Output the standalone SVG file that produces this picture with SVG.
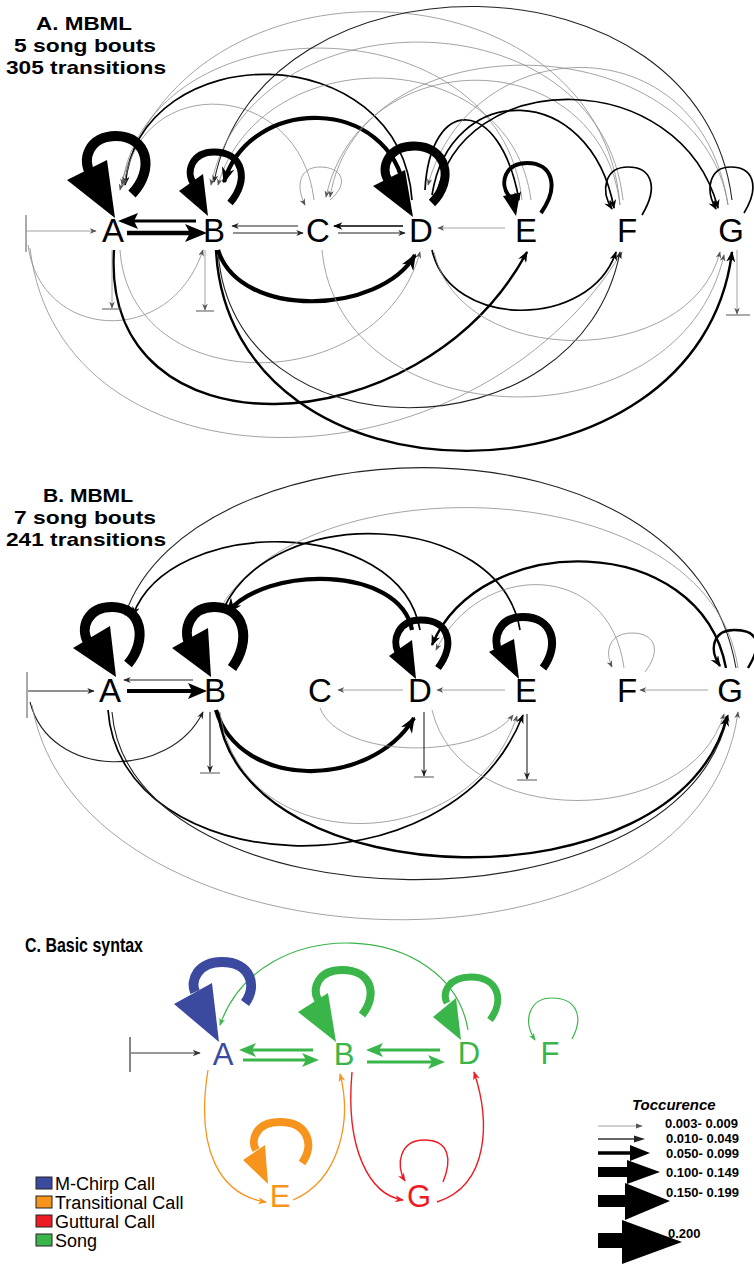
<svg xmlns="http://www.w3.org/2000/svg" width="754" height="1264" viewBox="0 0 754 1264">
<defs>
<marker id="m0" viewBox="0 0 10 8" refX="9" refY="4" markerWidth="7" markerHeight="5.6" markerUnits="userSpaceOnUse" orient="auto"><path d="M0,0 L10,4 L0,8 L3,4z" fill="#555"/></marker>
<marker id="m1" viewBox="0 0 10 8" refX="9" refY="4" markerWidth="8" markerHeight="6" markerUnits="userSpaceOnUse" orient="auto"><path d="M0,0 L10,4 L0,8 L3,4z" fill="#222"/></marker>
<marker id="m2" viewBox="0 0 10 8" refX="9" refY="4" markerWidth="10" markerHeight="7.5" markerUnits="userSpaceOnUse" orient="auto"><path d="M0,0 L10,4 L0,8 L3,4z" fill="#000"/></marker>
<marker id="m3" viewBox="0 0 10 8" refX="9" refY="4" markerWidth="12" markerHeight="9" markerUnits="userSpaceOnUse" orient="auto"><path d="M0,0 L10,4 L0,8 L3,4z" fill="#000"/></marker>
<marker id="m4" viewBox="0 0 10 8" refX="9" refY="4" markerWidth="18" markerHeight="13" markerUnits="userSpaceOnUse" orient="auto"><path d="M0,0 L10,4 L0,8 L3,4z" fill="#000"/></marker>
<marker id="mg" viewBox="0 0 10 8" refX="9" refY="4" markerWidth="8" markerHeight="6" markerUnits="userSpaceOnUse" orient="auto"><path d="M0,0 L10,4 L0,8 L3,4z" fill="#3ab54a"/></marker>
<marker id="mo" viewBox="0 0 10 8" refX="9" refY="4" markerWidth="9" markerHeight="7" markerUnits="userSpaceOnUse" orient="auto"><path d="M0,0 L10,4 L0,8 L3,4z" fill="#f7941d"/></marker>
<marker id="mr" viewBox="0 0 10 8" refX="9" refY="4" markerWidth="9" markerHeight="7" markerUnits="userSpaceOnUse" orient="auto"><path d="M0,0 L10,4 L0,8 L3,4z" fill="#ed1c24"/></marker>
<marker id="md" viewBox="0 0 10 8" refX="9" refY="4" markerWidth="9" markerHeight="6.5" markerUnits="userSpaceOnUse" orient="auto"><path d="M0,0 L10,4 L0,8 L3,4z" fill="#333"/></marker>
</defs>
<style>
text{font-family:"Liberation Sans",Arial,sans-serif}
.n{font-size:33px;fill:#000;text-anchor:middle}
.nc{font-size:31px;text-anchor:middle}
.ttl{font-size:19px;font-weight:bold;text-anchor:middle}
.e0{fill:none;stroke:#8c8c8c;stroke-width:0.8;marker-end:url(#m0)}
.e1{fill:none;stroke:#222;stroke-width:1.1;marker-end:url(#m1)}
.e2{fill:none;stroke:#000;stroke-width:1.7;marker-end:url(#m2)}
.e3{fill:none;stroke:#000;stroke-width:2.4;marker-end:url(#m3)}
.e4{fill:none;stroke:#000;stroke-width:4.2;marker-end:url(#m4)}
.bar{fill:none;stroke:#555;stroke-width:1}
.lp{fill:none;stroke:#000}
.hd{fill:#000}
.g{fill:none;stroke:#3ab54a}
.gm{fill:none;stroke:#3ab54a;stroke-width:1.2;marker-end:url(#mg)}
.om{fill:none;stroke:#f7941d;stroke-width:1.3;marker-end:url(#mo)}
.rm{fill:none;stroke:#ed1c24;stroke-width:1.4;marker-end:url(#mr)}
.leg{font-size:18px}
.val{font-size:13px;font-weight:bold}
</style>
<rect width="754" height="1264" fill="#fff"/>

<!-- Titles -->
<g id="titleA">
<text class="ttl" x="84" y="30" textLength="96" lengthAdjust="spacingAndGlyphs">A. MBML</text>
<text class="ttl" x="85" y="52" textLength="142" lengthAdjust="spacingAndGlyphs">5 song bouts</text>
<text class="ttl" x="86" y="74" textLength="160" lengthAdjust="spacingAndGlyphs">305 transitions</text>
</g>
<g id="titleB">
<text class="ttl" x="88" y="502" textLength="90" lengthAdjust="spacingAndGlyphs">B. MBML</text>
<text class="ttl" x="85" y="524" textLength="142" lengthAdjust="spacingAndGlyphs">7 song bouts</text>
<text class="ttl" x="86" y="546" textLength="160" lengthAdjust="spacingAndGlyphs">241 transitions</text>
</g>
<g id="titleC">
<text x="25" y="952" style="font-size:21px;font-weight:bold" textLength="118" lengthAdjust="spacingAndGlyphs">C. Basic syntax</text>
</g>

<!-- Panel A connectors -->
<g id="connectorsA">
<line class="bar" x1="26" y1="215" x2="26" y2="252"/>
<path class="e0" d="M27 231 H96"/>
<path d="M127 233 H190" stroke="#000" stroke-width="4.5" fill="none"/>
<polygon class="hd" points="185,224 207,233 185,242 190,233"/>
<path d="M196 221 H132" stroke="#000" stroke-width="3" fill="none"/>
<polygon class="hd" points="138,213 118,221 138,229 134,221"/>
<path class="e1" d="M298 226 H232"/>
<path class="e1" d="M233 233 H303"/>
<path class="e2" d="M403 226 H334"/>
<path class="e1" d="M338 233 H405"/>
<path class="e0" d="M505 228 H438"/>
<!-- top arcs -->
<path class="e0" d="M620 205 C600 -40, 180 -60, 120 190"/>
<path class="e2" d="M412 200 C400 35, 140 35, 125 185"/>
<path class="e0" d="M314 200 C300 80, 140 70, 124 185"/>
<path class="e0" d="M522 200 C500 0, 150 0, 122 185"/>
<path class="e1" d="M732 200 C700 -55, 260 -55, 214 182"/>
<path class="e0" d="M623 200 C600 -8, 250 -8, 211 185"/>
<path class="e0" d="M531 200 C510 40, 260 40, 218 185"/>
<path class="e4" d="M405 192 C390 95, 250 95, 224 182"/>
<path class="e0" d="M728 205 C700 25, 360 15, 330 197"/>
<path class="e0" d="M620 205 C600 40, 360 40, 326 197"/>
<path class="e2" d="M432 195 C450 80, 590 80, 614 208"/>
<path class="e2" d="M436 198 C460 65, 680 65, 718 208"/>
<path class="e2" d="M425 190 C430 95, 500 95, 519 200"/>
<path class="e0" d="M728 205 C700 20, 470 30, 428 185"/>
<!-- self loops -->
<path class="lp" stroke-width="10" d="M132 194 C155 170, 148 136, 116 136 C89 136, 81 160, 91 174"/>
<polygon class="hd" points="67,180 115,218 107,160"/>
<path class="lp" stroke-width="7" d="M230 203 C250 180, 243 152, 214 152 C192 152, 185 172, 194 184"/>
<polygon class="hd" points="179,191 208,216 203,174"/>
<path class="e0" d="M330 200 C350 183, 342 167, 320 167 C300 167, 295 185, 305 205"/>
<path class="lp" stroke-width="9" d="M432 203 C455 180, 447 146, 414 146 C388 146, 380 168, 388 180"/>
<polygon class="hd" points="373,186 413,217 405,170"/>
<path class="lp" stroke-width="4" d="M541 213 C560 186, 552 163, 527 163 C505 163, 499 183, 509 196"/>
<polygon class="hd" points="503,196 516,216 520,193"/>
<path class="e2" d="M642 215 C660 185, 650 167, 628 167 C605 167, 600 190, 612 209"/>
<path class="e2" d="M744 213 C761 185, 752 167, 731 167 C709 167, 705 190, 716 209"/>
<!-- bottom arcs -->
<path class="e0" d="M28 245 C40 340, 170 350, 203 250"/>
<path class="e0" d="M30 248 C60 500, 470 500, 622 252"/>
<path class="e3" d="M114 250 C100 460, 420 450, 527 252"/>
<path class="e0" d="M120 250 C130 400, 380 400, 420 252"/>
<path class="e3" d="M216 250 C230 520, 700 515, 732 252"/>
<path class="e1" d="M218 250 C230 460, 580 460, 620 252"/>
<path class="e4" d="M218 250 C240 320, 380 315, 415 255"/>
<path class="e0" d="M322 250 C340 440, 680 450, 724 255"/>
<path class="e2" d="M432 250 C450 330, 590 330, 616 252"/>
<path class="e0" d="M434 252 C460 370, 690 370, 720 252"/>
<!-- end bars -->
<path class="e0" d="M112 250 V308"/><line class="bar" x1="102" y1="309" x2="122" y2="309"/>
<path class="e0" d="M205 250 V310"/><line class="bar" x1="196" y1="311" x2="214" y2="311"/>
<path class="e0" d="M737 250 V314"/><line class="bar" x1="726" y1="315" x2="750" y2="315"/>
</g>

<!-- Panel A nodes -->
<g id="A-A"><text class="n" x="113" y="242">A</text></g>
<g id="A-B"><text class="n" x="214" y="242">B</text></g>
<g id="A-C"><text class="n" x="318" y="242">C</text></g>
<g id="A-D"><text class="n" x="421" y="242">D</text></g>
<g id="A-E"><text class="n" x="526" y="242">E</text></g>
<g id="A-F"><text class="n" x="627" y="242">F</text></g>
<g id="A-G"><text class="n" x="731" y="242">G</text></g>

<!-- Panel B connectors -->
<g id="connectorsB">
<line class="bar" x1="27" y1="672" x2="27" y2="718"/>
<path class="e1" d="M28 691 H94"/>
<path class="e1" d="M193 680 H124"/>
<path d="M127 691 H192" stroke="#000" stroke-width="4" fill="none"/>
<polygon class="hd" points="188,683 207,691 188,699 192,691"/>
<path class="e0" d="M403 690 H338"/>
<path class="e0" d="M505 690 H437"/>
<path class="e0" d="M708 690 H640"/>
<!-- top arcs -->
<path class="e1" d="M736 668 C690 400, 190 420, 125 615"/>
<path class="e2" d="M420 630 C400 515, 170 515, 133 615"/>
<path class="e0" d="M738 668 C710 470, 300 460, 218 612"/>
<path class="e2" d="M520 630 C500 510, 270 500, 222 612"/>
<path class="e4" d="M412 630 C400 565, 265 565, 227 613"/>
<path class="e3" d="M726 668 C700 530, 480 530, 432 645"/>
<path class="e0" d="M624 668 C610 560, 480 560, 436 650"/>
<!-- self loops -->
<path class="lp" stroke-width="10" d="M128 664 C148 640, 142 607, 112 607 C87 607, 80 628, 88 642"/>
<polygon class="hd" points="73,648 116,677 110,626"/>
<path class="lp" stroke-width="10" d="M232 668 C252 640, 245 607, 214 607 C190 607, 182 630, 190 645"/>
<polygon class="hd" points="172,648 211,677 208,628"/>
<path class="lp" stroke-width="7" d="M438 668 C455 645, 450 620, 421 620 C398 620, 392 640, 398 652"/>
<polygon class="hd" points="389,656 416,679 412,640"/>
<path class="lp" stroke-width="8" d="M543 668 C560 645, 553 617, 523 617 C499 617, 492 638, 499 652"/>
<polygon class="hd" points="489,652 519,679 514,639"/>
<path class="e0" d="M645 672 C662 650, 655 633, 632 633 C610 633, 604 650, 612 667"/>
<path class="e3" d="M748 668 C765 640, 755 630, 734 630 C714 630, 708 648, 720 666"/>
<!-- bottom arcs -->
<path class="e1" d="M30 702 C50 780, 170 780, 203 712"/>
<path class="e0" d="M32 705 C80 980, 700 1000, 738 712"/>
<path class="e2" d="M108 710 C120 880, 450 900, 523 715"/>
<path class="e1" d="M112 712 C130 930, 680 940, 728 715"/>
<path class="e4" d="M216 710 C240 790, 370 790, 414 718"/>
<path class="e3" d="M218 712 C240 900, 680 910, 727 716"/>
<path class="e0" d="M220 712 C240 860, 470 860, 517 716"/>
<path class="e0" d="M320 708 C340 760, 480 760, 513 715"/>
<path class="e0" d="M432 710 C460 830, 690 830, 724 714"/>
<!-- end bars -->
<path class="e1" d="M210 712 V772"/><line class="bar" x1="200" y1="773" x2="220" y2="773"/>
<path class="e1" d="M424 712 V776"/><line class="bar" x1="414" y1="777" x2="434" y2="777"/>
<path class="e1" d="M527 714 V779"/><line class="bar" x1="517" y1="780" x2="537" y2="780"/>
</g>

<!-- Panel B nodes -->
<g id="B-A"><text class="n" x="110" y="702">A</text></g>
<g id="B-B"><text class="n" x="215" y="702">B</text></g>
<g id="B-C"><text class="n" x="320" y="702">C</text></g>
<g id="B-D"><text class="n" x="420" y="702">D</text></g>
<g id="B-E"><text class="n" x="526" y="702">E</text></g>
<g id="B-F"><text class="n" x="627" y="702">F</text></g>
<g id="B-G"><text class="n" x="730" y="702">G</text></g>

<!-- Panel C connectors -->
<g id="connectorsC">
<line x1="130" y1="1037" x2="130" y2="1072" stroke="#333" stroke-width="1.2"/>
<path d="M131 1053 H200" fill="none" stroke="#333" stroke-width="1.2" marker-end="url(#md)"/>
<path class="gm" d="M468 1030 C450 920, 260 910, 220 1025"/>
<path fill="none" stroke="#3b4a9f" stroke-width="10" d="M245 1003 C258 985, 250 962, 222 962 C198 962, 190 980, 195 992"/>
<polygon fill="#3b4a9f" points="174,1004 219,1042 212,983"/>
<path class="g" stroke-width="8" d="M362 1015 C378 995, 372 970, 342 970 C318 970, 312 988, 318 1000"/>
<polygon fill="#3ab54a" points="298,1012 336,1042 328,993"/>
<path class="g" stroke-width="7" d="M490 1020 C505 1000, 498 977, 471 977 C448 977, 442 993, 447 1003"/>
<polygon fill="#3ab54a" points="433,1017 461,1040 456,998"/>
<path class="gm" d="M572 1039 C585 1015, 575 998, 552 998 C530 998, 522 1020, 535 1040"/>
<path class="g" stroke-width="3" d="M243 1060 H306"/>
<polygon fill="#3ab54a" points="302,1053 319,1060 302,1067 306,1060"/>
<path class="g" stroke-width="3" d="M313 1050 H252"/>
<polygon fill="#3ab54a" points="256,1043 239,1050 256,1057 252,1050"/>
<path class="g" stroke-width="3" d="M440 1050 H379"/>
<polygon fill="#3ab54a" points="383,1043 366,1050 383,1057 379,1050"/>
<path class="g" stroke-width="3" d="M367 1062 H432"/>
<polygon fill="#3ab54a" points="428,1055 445,1062 428,1069 432,1062"/>
<path class="om" d="M208 1070 C195 1150, 220 1195, 266 1202"/>
<path class="om" stroke-width="1" d="M293 1200 C340 1180, 352 1120, 340 1074"/>
<path fill="none" stroke="#f7941d" stroke-width="8" d="M302 1163 C315 1145, 308 1122, 280 1122 C256 1122, 250 1140, 256 1150"/>
<polygon fill="#f7941d" points="243,1160 268,1184 265,1145"/>
<path class="rm" d="M352 1072 C345 1150, 370 1195, 403 1200"/>
<path class="rm" d="M437 1202 C490 1185, 490 1120, 474 1072"/>
<path class="rm" d="M443 1182 C452 1160, 450 1140, 424 1140 C400 1140, 395 1165, 405 1181"/>
</g>

<!-- Panel C nodes -->
<g id="C-A"><text class="nc" x="223" y="1065" fill="#3b4a9f">A</text></g>
<g id="C-B"><text class="nc" x="344" y="1065" fill="#3ab54a">B</text></g>
<g id="C-D"><text class="nc" x="469" y="1064" fill="#3ab54a">D</text></g>
<g id="C-F"><text class="nc" x="550" y="1064" fill="#3ab54a">F</text></g>
<g id="C-E"><text class="nc" x="280" y="1207" fill="#f7941d">E</text></g>
<g id="C-G"><text class="nc" x="419" y="1207" fill="#ed1c24">G</text></g>

<!-- Legend: call types -->
<g id="legend-types">
<rect x="36" y="1177" width="16" height="12" fill="#3b4a9f" stroke="#222" stroke-width="1"/>
<text class="leg" x="55" y="1190">M-Chirp Call</text>
<rect x="36" y="1196" width="16" height="12" fill="#f7941d" stroke="#222" stroke-width="1"/>
<text class="leg" x="55" y="1209">Transitional Call</text>
<rect x="36" y="1215" width="16" height="12" fill="#ed1c24" stroke="#222" stroke-width="1"/>
<text class="leg" x="55" y="1228">Guttural Call</text>
<rect x="36" y="1234" width="16" height="12" fill="#3ab54a" stroke="#222" stroke-width="1"/>
<text class="leg" x="55" y="1247">Song</text>
</g>

<!-- Legend: Toccurence -->
<g id="legend-occ">
<text x="632" y="1110" style="font-size:15px;font-weight:bold;font-style:italic">Toccurence</text>
<line x1="598" y1="1126" x2="637" y2="1126" stroke="#888" stroke-width="0.8"/>
<polygon points="636,1123.5 643,1126 636,1128.5" fill="#555"/>
<text class="val" x="665" y="1128">0.003- 0.009</text>
<line x1="598" y1="1139" x2="637" y2="1139" stroke="#333" stroke-width="1.6"/>
<polygon points="634,1135.5 645,1139 634,1142.5" fill="#222"/>
<text class="val" x="666" y="1143">0.010- 0.049</text>
<line x1="598" y1="1153" x2="634" y2="1153" stroke="#000" stroke-width="3.5"/>
<polygon points="630,1145 650,1153 630,1161" fill="#000"/>
<text class="val" x="666" y="1158">0.050- 0.099</text>
<rect x="598" y="1167" width="32" height="10" fill="#000"/>
<polygon points="627,1160 660,1172 627,1184" fill="#000"/>
<text class="val" x="666" y="1177">0.100- 0.149</text>
<rect x="598" y="1195" width="30" height="12" fill="#000"/>
<polygon points="625,1183 670,1201 625,1220" fill="#000"/>
<text class="val" x="666" y="1197">0.150- 0.199</text>
<rect x="598" y="1233" width="28" height="15" fill="#000"/>
<polygon points="622,1220 682,1242 622,1264" fill="#000"/>
<text class="val" x="668" y="1238">0.200</text>
</g>
</svg>
